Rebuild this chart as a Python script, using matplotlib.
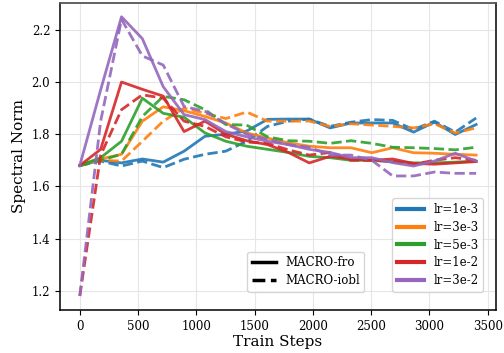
import numpy as np
import matplotlib
matplotlib.use("Agg")
import matplotlib.pyplot as plt
from matplotlib.lines import Line2D

plt.rcParams["font.family"] = "DejaVu Serif"

steps = [0, 179, 358, 537, 716, 895, 1074, 1253, 1432, 1611,
         1790, 1969, 2148, 2327, 2506, 2685, 2864, 3043, 3222, 3401]

lr_labels = ["lr=1e-3", "lr=3e-3", "lr=5e-3", "lr=1e-2", "lr=3e-2"]
colors = ["#1f77b4", "#ff7f0e", "#2ca02c", "#d62728", "#9467bd"]

# MACRO-fro (solid)
fro_1e3 = [1.68, 1.70, 1.69, 1.705, 1.693, 1.735, 1.792, 1.80, 1.812, 1.857,
           1.858, 1.858, 1.824, 1.843, 1.843, 1.843, 1.808, 1.846, 1.799, 1.837]
fro_3e3 = [1.68, 1.705, 1.723, 1.85, 1.905, 1.89, 1.868, 1.843, 1.805, 1.785,
           1.767, 1.754, 1.748, 1.748, 1.729, 1.748, 1.729, 1.727, 1.723, 1.72]
fro_5e3 = [1.68, 1.71, 1.773, 1.938, 1.88, 1.865, 1.805, 1.773, 1.754, 1.742,
           1.73, 1.715, 1.71, 1.70, 1.70, 1.695, 1.69, 1.69, 1.693, 1.697]
fro_1e2 = [1.68, 1.742, 2.0, 1.972, 1.946, 1.81, 1.85, 1.80, 1.775, 1.76,
           1.73, 1.69, 1.715, 1.705, 1.70, 1.705, 1.688, 1.685, 1.69, 1.695]
fro_3e2 = [1.68, 1.97, 2.25, 2.166, 1.982, 1.875, 1.856, 1.81, 1.79, 1.773,
           1.76, 1.742, 1.73, 1.71, 1.71, 1.691, 1.678, 1.697, 1.727, 1.697]

# MACRO-iobl (dashed)
iobl_1e3 = [1.68, 1.697, 1.678, 1.697, 1.672, 1.704, 1.723, 1.735, 1.773, 1.83,
            1.85, 1.858, 1.83, 1.846, 1.856, 1.853, 1.818, 1.85, 1.808, 1.862]
iobl_3e3 = [1.68, 1.70, 1.697, 1.773, 1.85, 1.90, 1.88, 1.86, 1.885, 1.85,
            1.85, 1.85, 1.83, 1.84, 1.835, 1.83, 1.824, 1.84, 1.805, 1.824]
iobl_5e3 = [1.68, 1.70, 1.723, 1.868, 1.945, 1.932, 1.894, 1.837, 1.835, 1.79,
            1.775, 1.773, 1.765, 1.775, 1.765, 1.75, 1.748, 1.745, 1.74, 1.75]
iobl_1e2 = [1.18, 1.72, 1.894, 1.951, 1.938, 1.85, 1.83, 1.79, 1.77, 1.765,
            1.74, 1.72, 1.73, 1.70, 1.70, 1.695, 1.685, 1.70, 1.71, 1.70]
iobl_3e2 = [1.18, 1.85, 2.24, 2.10, 2.065, 1.906, 1.888, 1.84, 1.80, 1.78,
            1.76, 1.75, 1.72, 1.72, 1.70, 1.64, 1.64, 1.655, 1.65, 1.65]

fro = [fro_1e3, fro_3e3, fro_5e3, fro_1e2, fro_3e2]
iobl = [iobl_1e3, iobl_3e3, iobl_5e3, iobl_1e2, iobl_3e2]

fig = plt.figure(figsize=(5.04, 3.53), dpi=100)
ax = fig.add_axes([0.119, 0.122, 0.865, 0.870])

for c, yf, yi in zip(colors, fro, iobl):
    ax.plot(steps, yf, color=c, lw=2, alpha=0.9)
    ax.plot(steps, yi, color=c, lw=2, ls="--", alpha=0.9)

ax.grid(True, color="#e6e6e6", lw=0.8)
ax.set_axisbelow(True)
for side in ["left", "bottom", "right"]:
    ax.spines[side].set_linewidth(1.1)
ax.spines["top"].set_color("#555555")
ax.spines["top"].set_linewidth(1.3)
ax.set_xticks([0, 500, 1000, 1500, 2000, 2500, 3000, 3500])
ax.set_yticks([1.2, 1.4, 1.6, 1.8, 2.0, 2.2])
ax.tick_params(labelsize=8.5)
ax.set_xlabel("Train Steps", fontsize=11, labelpad=2)
ax.set_ylabel("Spectral Norm", fontsize=11)

lr_handles = [Line2D([0], [0], color=c, lw=3) for c in colors]
leg1 = ax.legend(lr_handles, lr_labels, loc="lower right", fontsize=8.5,
                 bbox_to_anchor=(0.985, 0.04), handlelength=2.3,
                 labelspacing=0.4)
ax.add_artist(leg1)

style_handles = [Line2D([0], [0], color="black", lw=2.5),
                 Line2D([0], [0], color="black", lw=2.5, ls="--")]
ax.legend(style_handles, ["MACRO-fro", "MACRO-iobl"], loc="lower center",
          fontsize=8.5, bbox_to_anchor=(0.564, 0.04), labelspacing=0.4)

fig.savefig("out.png", dpi=100)
